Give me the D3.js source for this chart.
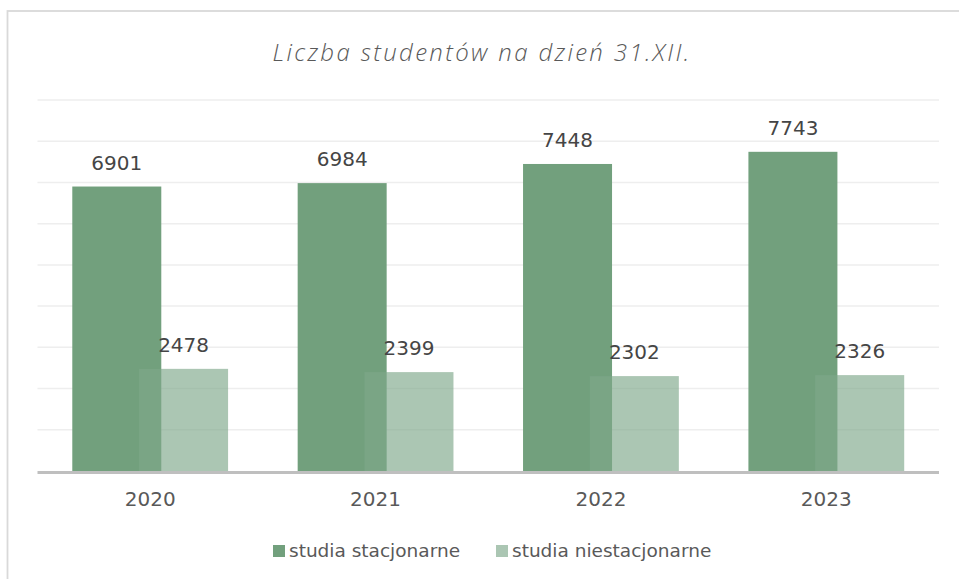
<!DOCTYPE html>
<html>
<head>
<meta charset="utf-8">
<script src="https://cdn.jsdelivr.net/npm/d3@7"></script>
<style>
  html, body { margin: 0; padding: 0; background: #ffffff; }
  svg { display: block; }
</style>
</head>
<body>
<svg id="chart" width="959" height="579"></svg>
<script>
// Liczba studentów według formy studiów
const years = ["2020", "2021", "2022", "2023"];
const stacjonarne = [6901, 6984, 7448, 7743];
const niestacjonarne = [2478, 2399, 2302, 2326];
const seriesNames = ["studia stacjonarne", "studia niestacjonarne"];
const gridValues = [0, 1000, 2000, 3000, 4000, 5000, 6000, 7000, 8000, 9000];

const svg = d3.select("#chart");
const W = 959, H = 579;
const textColor = "#595959";
const numFont = "'DejaVu Sans', sans-serif";

// outer chart frame (extends past the right and bottom edges)
svg.append("rect")
  .attr("x", 7.5).attr("y", 11)
  .attr("width", W + 20).attr("height", H + 20)
  .attr("fill", "#ffffff")
  .attr("stroke", "#d9d9d9").attr("stroke-width", 1.8);

const plot = { left: 37.5, right: 939, top: 100, bottom: 471 };

const x = d3.scaleBand().domain(years).range([plot.left, plot.right]);
const y = d3.scaleLinear().domain([0, 9000]).range([plot.bottom, plot.top]);

// title
svg.append("text")
  .attr("x", 482).attr("y", 60.5)
  .attr("text-anchor", "middle")
  .attr("font-family", "'Open Sans', sans-serif")
  .attr("font-style", "italic")
  .attr("font-weight", 300)
  .attr("font-size", 24)
  .attr("letter-spacing", 2.35)
  .attr("fill", textColor)
  .text("Liczba studentów na dzień 31.XII.");

// horizontal gridlines
svg.append("g").selectAll("line")
  .data(gridValues.filter(v => v > 0))
  .join("line")
  .attr("x1", plot.left).attr("x2", plot.right)
  .attr("y1", d => y(d)).attr("y2", d => y(d))
  .attr("stroke", "#eeeeee").attr("stroke-width", 1.5);

const barW = 89;
const offset = 33.4;

const darkFill = "#6d9d79";
const lightFill = "rgb(126,168,138)";

// stationary studies bars
svg.append("g").selectAll("rect")
  .data(years)
  .join("rect")
  .attr("x", (d) => x(d) + x.bandwidth() / 2 - offset - barW / 2)
  .attr("y", (d, i) => y(stacjonarne[i]))
  .attr("width", barW)
  .attr("height", (d, i) => y(0) - y(stacjonarne[i]))
  .attr("fill", darkFill)
  .attr("fill-opacity", 0.97);

// part-time studies bars (semi-transparent, drawn on top)
svg.append("g").selectAll("rect")
  .data(years)
  .join("rect")
  .attr("x", (d) => x(d) + x.bandwidth() / 2 + offset - barW / 2)
  .attr("y", (d, i) => y(niestacjonarne[i]))
  .attr("width", barW)
  .attr("height", (d, i) => y(0) - y(niestacjonarne[i]))
  .attr("fill", lightFill)
  .attr("fill-opacity", 0.65);

// value labels
const labelGroup = svg.append("g")
  .attr("font-family", numFont)
  .attr("font-size", 20)
  .attr("fill", "#454545")
  .attr("text-anchor", "middle");

labelGroup.selectAll("text.st")
  .data(years)
  .join("text")
  .attr("class", "st")
  .attr("x", d => x(d) + x.bandwidth() / 2 - offset)
  .attr("y", (d, i) => y(stacjonarne[i]) - 17)
  .text((d, i) => stacjonarne[i]);

labelGroup.selectAll("text.ns")
  .data(years)
  .join("text")
  .attr("class", "ns")
  .attr("x", d => x(d) + x.bandwidth() / 2 + offset)
  .attr("y", (d, i) => y(niestacjonarne[i]) - 17)
  .text((d, i) => niestacjonarne[i]);

// category axis
const xAxis = svg.append("g")
  .attr("transform", `translate(0,${plot.bottom})`)
  .call(d3.axisBottom(x).tickSize(0).tickPadding(21));
xAxis.select(".domain")
  .attr("stroke", "#bfbfbf").attr("stroke-width", 3)
  .attr("d", `M${plot.left},1.5H${plot.right}`);
xAxis.selectAll("text")
  .attr("font-family", numFont)
  .attr("font-size", 20)
  .attr("fill", textColor);

// legend
const legendItems = [
  { name: seriesNames[0], fill: darkFill, op: 0.97, x: 273 },
  { name: seriesNames[1], fill: lightFill, op: 0.65, x: 496 }
];
const legend = svg.append("g");
legendItems.forEach(it => {
  legend.append("rect")
    .attr("x", it.x).attr("y", 545)
    .attr("width", 12).attr("height", 12)
    .attr("fill", it.fill).attr("fill-opacity", it.op);
  legend.append("text")
    .attr("x", it.x + 16).attr("y", 557)
    .attr("font-family", numFont)
    .attr("font-size", 18.5)
    .attr("fill", textColor)
    .text(it.name);
});
</script>
</body>
</html>
